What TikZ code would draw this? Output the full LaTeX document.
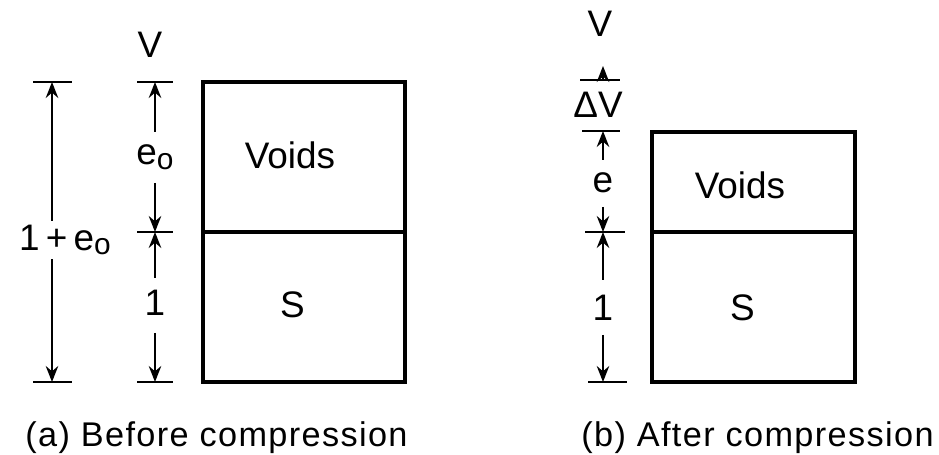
\documentclass[tikz,border=0pt]{standalone}
\usepackage{fontspec}
\setmainfont{Liberation Sans}
\usetikzlibrary{arrows.meta, positioning}

\begin{document}
\begin{tikzpicture}[
    soil/.style={draw=black, line width=2.2pt},
    dimline/.style={line width=1.6pt},
    dimarrow/.style={line width=1.6pt, -{Stealth[length=9pt, width=7pt]}},
    lbl/.style={font=\fontsize{21}{24}\selectfont, inner sep=2pt},
    caption/.style={font=\fontsize{19.5}{24}\selectfont\addfontfeatures{LetterSpace=4}}
]
    \useasboundingbox (0,0) rectangle (18.78,9.10);

    % (a) Before compression
    \draw[soil] (4.06,1.46) rectangle (8.10,7.46);
    \draw[soil] (4.06,4.46) -- (8.10,4.46);
    \node[lbl] (voidsa) at (5.80,6.00) {Voids};
    \node[lbl] (solida) at (5.85,3.00) {S};

    \coordinate (atop) at (3.10,7.46);
    \coordinate (amid) at (3.10,4.46);
    \coordinate (abot) at (3.10,1.46);
    \coordinate (ttop) at (1.04,7.46);
    \coordinate (tbot) at (1.04,1.46);
    \draw[dimline] (2.74,7.46) -- (3.46,7.46);
    \draw[dimline] (2.74,4.46) -- (3.46,4.46);
    \draw[dimline] (2.74,1.46) -- (3.46,1.46);
    \draw[dimline] (0.66,7.46) -- (1.44,7.46);
    \draw[dimline] (0.66,1.46) -- (1.44,1.46);

    \node[lbl] (va) at (3.00,8.20) {V};
    \node[lbl] (eo) at (3.10,5.95) {e{\fontsize{17}{20}\selectfont\raisebox{-0.3ex}{o}}};
    \node[lbl] (onea) at (3.10,3.05) {1};
    \node[lbl] (total) at (1.30,4.30) {1\,+\,e{\fontsize{17}{20}\selectfont\raisebox{-0.3ex}{o}}};

    \draw[dimarrow] (3.10,6.46) -- (atop);
    \draw[dimarrow] (3.10,5.44) -- (amid);
    \draw[dimarrow] (3.10,3.54) -- (amid);
    \draw[dimarrow] (3.10,2.44) -- (abot);
    \draw[dimarrow] (ttop |- total.north) -- (ttop);
    \draw[dimarrow] (tbot |- total.south) -- (tbot);

    % (b) After compression
    \draw[soil] (13.04,1.46) rectangle (17.10,6.46);
    \draw[soil] (13.04,4.46) -- (17.10,4.46);
    \node[lbl] (voidsb) at (14.80,5.40) {Voids};
    \node[lbl] (solidb) at (14.85,2.95) {S};

    \coordinate (bup) at (12.06,7.50);
    \coordinate (btop) at (12.06,6.48);
    \coordinate (bmid) at (12.06,4.46);
    \coordinate (bbot) at (12.06,1.46);
    \draw[dimline] (11.60,7.50) -- (12.40,7.50);
    \draw[dimline] (11.64,6.48) -- (12.40,6.48);
    \draw[dimline] (11.70,4.46) -- (12.50,4.46);
    \draw[dimline] (11.76,1.46) -- (12.54,1.46);

    \node[lbl] (vb) at (12.00,8.62) {V};
    \node[lbl] (dv) at (11.96,7.00) {ΔV};
    \node[lbl] (e) at (12.06,5.45) {e};
    \node[lbl] (oneb) at (12.06,2.95) {1};

    \draw[dimarrow] (bup) -- (12.06,7.78);
    \draw[dimarrow] (12.06,5.90) -- (btop);
    \draw[dimarrow] (12.06,4.96) -- (bmid);
    \draw[dimarrow] (12.06,3.50) -- (bmid);
    \draw[dimarrow] (12.06,2.40) -- (bbot);

    % Captions
    \node[caption] (capa) at (4.33,0.35) {(a) Before compression};
    \node[caption] (capb) at (15.15,0.35) {(b) After compression};
\end{tikzpicture}
\end{document}
